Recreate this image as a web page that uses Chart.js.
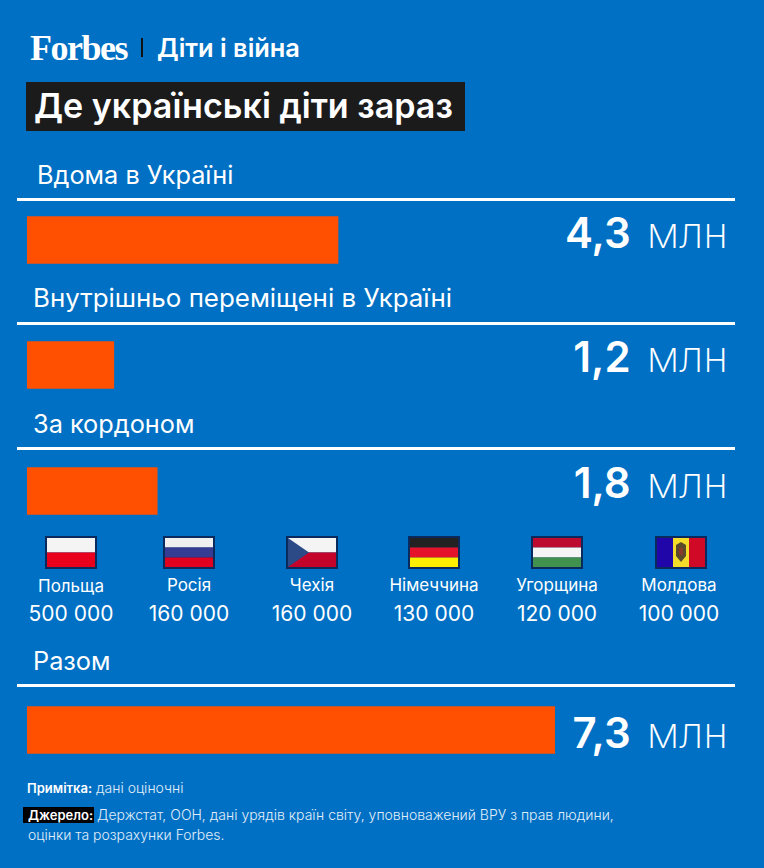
<!DOCTYPE html>
<html lang="uk">
<head>
<meta charset="utf-8">
<title>Де українські діти зараз</title>
<script src="https://cdn.jsdelivr.net/npm/chart.js@4"></script>
<style>
  html, body { margin: 0; padding: 0; }
  body { width: 764px; height: 868px; background: #0070c4; overflow: hidden; position: relative; color: #fff; font-family: Inter, sans-serif; }
  .t { position: absolute; white-space: nowrap; line-height: 1; }
  .logo { left: 30px; top: 27px; font: bold 36px "Liberation Serif", serif; letter-spacing: -1.5px; }
  .sep { position: absolute; left: 141px; top: 38px; width: 2px; height: 19px; background: #111; }
  .sub { left: 157px; top: 35px; font-size: 25.4px; font-weight: 600; }
  .titlebox { position: absolute; left: 26px; top: 82px; width: 439px; height: 49px; background: #1b1b1b; }
  .title { left: 34px; top: 89px; font-size: 34.1px; font-weight: 600; }
  .section { font-weight: 400; }
  .rule { position: absolute; left: 17px; width: 718px; height: 3px; background: #fff; }
  .row { position: absolute; left: 27px; }
  .value { right: 36px; font-size: 42px; font-weight: 600; }
  .value span { font-size: 43px; font-weight: 200; margin-left: 16px; }
  .flag { position: absolute; top: 536px; width: 52px; height: 33px; }
  .country { font-size: 17px; transform: translateX(-50%); }
  .amount { font-size: 21px; font-weight: 400; transform: translateX(-50%); }
  .note { font-size: 14px; font-weight: 300; color: #e0eef9; }
  .note b { color: #fff; font-weight: 600; font-size: 13px; }
  .srcbox { position: absolute; left: 23px; top: 807px; width: 71px; height: 16px; background: #000; }
</style>
</head>
<body>
<div class="t logo">Forbes</div>
<div class="sep"></div>
<div class="t sub">Діти і війна</div>
<div class="titlebox"></div>
<div class="t title">Де українські діти зараз</div>

<svg class="flag" style="left:45px" viewBox="0 0 52 33"><rect width="52" height="33" fill="#0a2a5e"/><rect x="2" y="2" width="48" height="14.5" fill="#f4f4f4"/><rect x="2" y="16.5" width="48" height="14.5" fill="#e8001c"/></svg>
<svg class="flag" style="left:163px" viewBox="0 0 52 33"><rect width="52" height="33" fill="#0a2a5e"/><rect x="2" y="2" width="48" height="9.5" fill="#f0f0f0"/><rect x="2" y="11.5" width="48" height="10" fill="#353c94"/><rect x="2" y="21.5" width="48" height="9.5" fill="#e0001f"/></svg>
<svg class="flag" style="left:286px" viewBox="0 0 52 33"><rect width="52" height="33" fill="#0a2a5e"/><rect x="2" y="2" width="48" height="14.5" fill="#f4f4f4"/><rect x="2" y="16.5" width="48" height="14.5" fill="#c4032b"/><polygon points="2,2 23,16.5 2,31" fill="#2b4a86"/></svg>
<svg class="flag" style="left:408px" viewBox="0 0 52 33"><rect width="52" height="33" fill="#0a2a5e"/><rect x="2" y="2" width="48" height="9.5" fill="#222"/><rect x="2" y="11.5" width="48" height="10" fill="#e5142a"/><rect x="2" y="21.5" width="48" height="9.5" fill="#ffee00"/></svg>
<svg class="flag" style="left:531px" viewBox="0 0 52 33"><rect width="52" height="33" fill="#0a2a5e"/><rect x="2" y="2" width="48" height="9.5" fill="#bd0a30"/><rect x="2" y="11.5" width="48" height="10" fill="#f5f5f5"/><rect x="2" y="21.5" width="48" height="9.5" fill="#40924e"/></svg>
<svg class="flag" style="left:655px" viewBox="0 0 52 33"><rect width="52" height="33" fill="#0a2a5e"/><rect x="2" y="2" width="16" height="29" fill="#2006a8"/><rect x="18" y="2" width="16" height="29" fill="#f3dc2a"/><rect x="34" y="2" width="16" height="29" fill="#d00a26"/><path d="M21 9 L26 6 L31 9 L31 20 L26 26 L21 20 Z" fill="#5a4a2a"/><rect x="24" y="12" width="4" height="7" fill="#8a3a2a"/></svg>

<div id="rows"></div>

<div class="t note" style="left:27px; top:781px"><b>Примітка:</b> дані оціночні</div>
<div class="srcbox"></div>
<div class="t note" style="left:28px; top:808px"><b>Джерело:</b> Держстат, ООН, дані урядів країн світу, уповноважений ВРУ з прав людини,</div>
<div class="t note" style="left:28px; top:828px">оцінки та розрахунки Forbes.</div>

<script>
// Діти, млн
const categories = ["Вдома в Україні", "Внутрішньо переміщені в Україні", "За кордоном", "Разом"];
const values = [4.3, 1.2, 1.8, 7.3];
const valueLabels = ["4,3", "1,2", "1,8", "7,3"];
const unit = "млн";

const countries = ["Польща", "Росія", "Чехія", "Німеччина", "Угорщина", "Молдова"];
const countryValues = ["500 000", "160 000", "160 000", "130 000", "120 000", "100 000"];

// layout of each block, top to bottom
const labelLeft = [37, 33, 33, 33];
const labelTop = [162, 285, 411, 648];
const labelSize = [25.3, 25.9, 25.3, 25.3];
const ruleTop = [198, 322, 447, 684];
const barTop = [210, 335, 461, 700];
const valueTop = [211, 335, 461, 711];

const countryCenter = [71, 189, 312, 434, 557, 679];
const countryTop = [578, 577, 577, 577, 577, 577];

const rows = document.querySelector("#rows");

function addText(className, text, left, top) {
  const el = document.createElement("div");
  el.className = "t " + className;
  el.textContent = text;
  el.style.left = left + "px";
  el.style.top = top + "px";
  rows.appendChild(el);
  return el;
}

function addBar(i) {
  const canvas = document.createElement("canvas");
  canvas.className = "row";
  canvas.style.top = barTop[i] + "px";
  canvas.width = 528;
  canvas.height = 60;
  rows.appendChild(canvas);

  new Chart(canvas.getContext("2d"), {
    type: "bar",
    data: {
      labels: [categories[i]],
      datasets: [
        {
          data: [values[i]],
          backgroundColor: "#ff4f00",
          borderWidth: 0,
          barThickness: 47,
        },
      ],
    },
    options: {
      indexAxis: "y",
      responsive: false,
      animation: false,
      plugins: { legend: { display: false }, tooltip: { enabled: false } },
      scales: {
        x: { display: false, min: 0, max: 7.3 },
        y: { display: false },
      },
    },
  });
}

for (let i = 0; i < categories.length; i++) {
  const label = addText("section", categories[i], labelLeft[i], labelTop[i]);
  label.style.fontSize = labelSize[i] + "px";

  const rule = document.createElement("div");
  rule.className = "rule";
  rule.style.top = ruleTop[i] + "px";
  rows.appendChild(rule);

  addBar(i);

  const val = addText("value", valueLabels[i], 0, valueTop[i]);
  val.style.left = "auto";
  const u = document.createElement("span");
  u.textContent = unit;
  val.appendChild(u);
}

for (let i = 0; i < countries.length; i++) {
  addText("country", countries[i], countryCenter[i], countryTop[i]);
  addText("amount", countryValues[i], countryCenter[i], 603);
}
</script>
</body>
</html>
